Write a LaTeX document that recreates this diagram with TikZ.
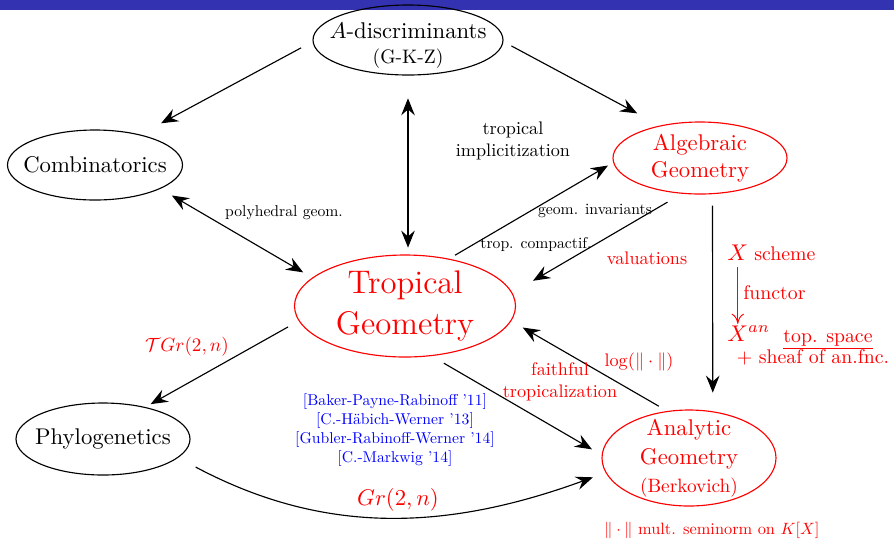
\documentclass[tikz,border=0pt]{standalone}
\usetikzlibrary{shapes.geometric,arrows.meta}
\definecolor{barblue}{RGB}{51,51,178}
\newcommand{\pxu}{0.44pt}
\begin{document}
\begin{tikzpicture}[x=0.44pt,y=-0.44pt,
  ell/.style={ellipse,draw,line width=0.5pt,inner sep=0pt},
  redell/.style={ell,draw=red},
  arr/.style={-{Stealth[length=7.5pt,width=6pt,inset=2.6pt]},line width=0.5pt},
  darr/.style={{Stealth[length=7.5pt,width=6pt,inset=2.6pt]}-{Stealth[length=7.5pt,width=6pt,inset=2.6pt]},line width=0.5pt},
  lbl/.style={inner sep=0pt,align=center,scale=0.69,transform shape},
  mid/.style={inner sep=0pt,align=center,scale=0.8,transform shape},
  rlbl/.style={mid,text=red},
  sm/.style={inner sep=0pt,text=red,scale=0.87,transform shape},
  rtxt/.style={inner sep=0pt,text=red},
]
\useasboundingbox (0,0) rectangle (894,538);
\fill[barblue] (0,0) rectangle (894,10);

% nodes
\node[ell,minimum width=190*\pxu,minimum height=70*\pxu,
  label={[align=center,inner sep=0pt,yshift=-2.5pt]center:$A$-discriminants\\[-1pt]\scalebox{0.86}{(G-K-Z)}}] (adisc) at (408,40) {};
\node[ell,minimum width=175*\pxu,minimum height=70*\pxu,
  label={[inner sep=0pt]center:Combinatorics}] (comb) at (95,165) {};
\node[redell,minimum width=174*\pxu,minimum height=72*\pxu,
  label={[align=center,inner sep=0pt,text=red]center:Algebraic\\Geometry}] (alg) at (700,158) {};
\node[redell,minimum width=221*\pxu,minimum height=102*\pxu,
  label={[align=center,inner sep=0pt,text=red,font=\Large]center:Tropical\\Geometry}] (trop) at (405,306) {};
\node[ell,minimum width=174*\pxu,minimum height=72*\pxu,
  label={[inner sep=0pt]center:Phylogenetics}] (phylo) at (103,439) {};
\node[redell,minimum width=174*\pxu,minimum height=96*\pxu,
  label={[align=center,inner sep=0pt,text=red]center:Analytic\\[1pt]Geometry\\\scalebox{0.85}{(Berkovich)}}] (anal) at (689,458) {};

% connectors
\draw[arr,shorten <=5.7pt,shorten >=10.4pt] (adisc.181) -- (comb.34);
\draw[arr,shorten <=4pt,shorten >=11.3pt] (adisc.-1) -- (alg.141);
\draw[darr,shorten <=10pt,shorten >=3pt] (adisc.south) -- (adisc.south |- trop.north);
\draw[darr,shorten <=5.8pt,shorten >=4.6pt] (comb.-20) -- (trop.163);
\draw[arr,shorten <=3pt,shorten >=2.6pt] (trop.47) -- (alg.183);
\draw[arr,shorten <=7.3pt,shorten >=10.5pt] (alg.243) -- (trop.7);
\draw[arr,shorten <=5pt,shorten >=8.2pt] (alg.-71.4) -- (anal.63.6);
\draw[arr,shorten <=6.2pt,shorten >=4.9pt] (trop.-62) -- (anal.178);
\draw[arr,shorten <=4.2pt,shorten >=5.8pt] (anal.115) -- (trop.-8);
\draw[arr,shorten <=5.4pt,shorten >=2.6pt] (trop.188) -- (phylo.37);
\draw[arr,shorten <=8.7pt,shorten >=5.9pt] (phylo.-14.5) to[out=-28,in=200] (anal.190);

% labels
\node[lbl] (lpoly) at (284,213) {polyhedral geom.};
\node[mid] (limpl) at (513,141) {tropical\\implicitization};
\node[lbl] (linv) at (595,211) {geom. invariants};
\node[lbl] (lcomp) at (536,244) {trop. compactif.};
\node[rlbl] (lval) at (647,258) {valuations};
\node[rlbl] (llog) at (639,362) {$\log(\|\cdot\|)$};
\node[rlbl] (lfaith) at (560,382) {faithful\\tropicalization};
\node[rtxt,scale=0.84,transform shape] (ltgr) at (187,347) {$\mathcal{T}Gr(2,n)$};
\node[rtxt] (lgr) at (398,500) {$Gr(2,n)$};
\node[lbl,text=blue] (lcite) at (395,430) {{[}Baker-Payne-Rabinoff '11{]}\\{[}C.-H\"abich-Werner '13{]}\\{[}Gubler-Rabinoff-Werner '14{]}\\{[}C.-Markwig '14{]}};
\node[rtxt,scale=0.72,transform shape] (lsemi) at (712,530) {$\|\cdot\|$ mult. seminorm on $K[X]$};

% right side
\node[rtxt,anchor=base west] (xs) at (727,260) {$X$};
\node[sm,anchor=base west] (lscheme) at (754,260) {scheme};
\node[rtxt,anchor=base west] (xan) at (727,341) {$X^{an}$};
\draw[red,line width=0.4pt,-{Computer Modern Rightarrow[length=4.5pt,width=5.5pt]},shorten <=3pt,shorten >=0.5pt] (xs.south) -- (xs.south |- xan.north);
\node[sm,anchor=west] (lfun) at (743,293) {functor};
\node[sm,anchor=base] (ltop) at (828,342) {\underline{top. space}};
\node[sm,anchor=base] (lsheaf) at (813,363) {+ sheaf of an.fnc.};
\end{tikzpicture}
\end{document}
